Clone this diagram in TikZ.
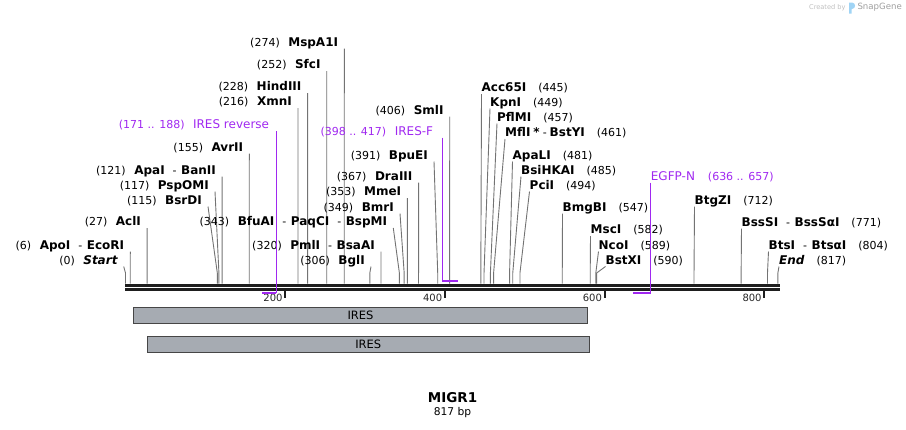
\documentclass[tikz,border=0pt]{standalone}
\usepackage{fontspec}
\setmainfont{DejaVu Sans}
\usetikzlibrary{positioning}

\definecolor{primer}{RGB}{160,40,240}
\definecolor{featgray}{RGB}{166,171,178}
\definecolor{featedge}{RGB}{70,70,70}
\definecolor{cutgray}{RGB}{115,115,115}
\definecolor{spine}{RGB}{30,30,30}
\definecolor{logoblue}{RGB}{160,212,245}

\newcommand{\enz}[1]{{\fontsize{12}{14}\selectfont\bfseries #1}}
\newcommand{\sitesep}{\hspace{8pt}-\hspace{4.5pt}}
\newcommand{\plab}[1]{{\fontsize{12}{14}\selectfont #1}}

\begin{document}
\begin{tikzpicture}[x=1pt, y=-1pt,
        cutlab/.style={inner xsep=6pt, inner ysep=0pt, text height=9pt, text depth=2.1pt, font=\fontsize{11}{13}\selectfont},
        cutlabR/.style={cutlab, inner xsep=0pt},
        cut/.style={draw=cutgray, line width=0.9pt},
        primerlab/.style={cutlab, text=primer},
        primerline/.style={draw=primer, line width=1.3pt},
        primerbar/.style={draw=primer, line width=2.3pt},
        feature/.style={draw=featedge, fill=featgray, line width=0.9pt, minimum height=16pt, inner sep=0pt, font=\fontsize{11.5}{13}\selectfont},
        tickmark/.style={draw=spine, line width=2pt},
        ticklab/.style={inner sep=0pt, text=black!85, font=\fontsize{10}{12}\selectfont}]
        \useasboundingbox (0,0) rectangle (906,429);
        \coordinate (bb) at (0,283.5);

        \draw[spine, line width=3pt] (125.3,285) -- (780,285);
        \draw[spine, line width=2.5pt] (125.3,289.5) -- (780,289.5);
        \foreach \t in {200,400,600,800}{
            \draw[tickmark] ({125.5+0.7985*\t},290.5) -- ++(0,7.5);
            \node[ticklab, anchor=east] (t\t) at ({125.5+0.7985*\t-2.5},297.5) {\t};
        }

        \foreach \bp/\ax/\ly/\lab in {
            274/344.3/42/{(274)\hspace{8.5pt}\enz{MspA1I}},
            252/326.7/64.5/{(252)\hspace{8.5pt}\enz{SfcI}},
            228/307.6/86.5/{(228)\hspace{8.5pt}\enz{HindIII}},
            216/298/101.5/{(216)\hspace{8.5pt}\enz{XmnI}},
            155/249.3/147/{(155)\hspace{8.5pt}\enz{AvrII}},
            121/222.1/170/{(121)\hspace{8.5pt}\enz{ApaI}\sitesep\enz{BanII}},
            117/215/185/{(117)\hspace{8.5pt}\enz{PspOMI}},
            115/208/200/{(115)\hspace{8.5pt}\enz{BsrDI}},
            27/147.1/221.5/{(27)\hspace{8.5pt}\enz{AclI}},
            6/130.3/245/{(6)\hspace{8.5pt}\enz{ApoI}\sitesep\enz{EcoRI}},
            0/123.7/260/{(0)\hspace{8.5pt}\enz{\itshape Start}},
            343/393.3/221.5/{(343)\hspace{8.5pt}\enz{BfuAI}\sitesep\enz{PaqCI}\sitesep\enz{BspMI}},
            320/381/245/{(320)\hspace{8.5pt}\enz{PmlI}\sitesep\enz{BsaAI}},
            306/371/260/{(306)\hspace{8.5pt}\enz{BglI}},
            349/400/207/{(349)\hspace{8.5pt}\enz{BmrI}},
            353/407.4/191.5/{(353)\hspace{8.5pt}\enz{MmeI}},
            367/418.6/176/{(367)\hspace{8.5pt}\enz{DraIII}},
            391/434/155/{(391)\hspace{8.5pt}\enz{BpuEI}},
            406/449.7/110/{(406)\hspace{8.5pt}\enz{SmlI}}}{
            \coordinate (s\bp) at ({125.5+0.7985*\bp},273);
            \node[cutlab, anchor=south east] (e\bp) at ({\ax},{\ly+6.5}) {\lab};
            \draw[cut] (e\bp.south east) -- (s\bp) -- (s\bp |- bb);
        }

        \foreach \bp/\ax/\ly/\lab in {
            445/481.5/87.5/{\enz{Acc65I}\hspace{12pt}(445)},
            449/490/102/{\enz{KpnI}\hspace{12pt}(449)},
            457/497/117/{\enz{PflMI}\hspace{12pt}(457)},
            461/505/132.5/{\enz{MflI}\hspace{3pt}\enz{*}\hspace{3pt}-\hspace{3pt}\enz{BstYI}\hspace{12pt}(461)},
            481/512.5/155/{\enz{ApaLI}\hspace{12pt}(481)},
            485/521/170/{\enz{BsiHKAI}\hspace{12pt}(485)},
            494/529.5/185/{\enz{PciI}\hspace{12pt}(494)},
            547/562.5/207/{\enz{BmgBI}\hspace{12pt}(547)},
            582/590.5/229.5/{\enz{MscI}\hspace{12pt}(582)},
            589/598.5/245/{\enz{NcoI}\hspace{12pt}(589)},
            590/605.5/260/{\enz{BstXI}\hspace{12pt}(590)},
            712/694.5/200/{\enz{BtgZI}\hspace{12pt}(712)},
            771/741.5/222/{\enz{BssSI}\sitesep\enz{BssSαI}\hspace{12pt}(771)},
            804/768.5/245/{\enz{BtsI}\sitesep\enz{BtsαI}\hspace{12pt}(804)},
            817/779/260/{\enz{\itshape End}\hspace{12pt}(817)}}{
            \coordinate (s\bp) at ({125.5+0.7985*\bp},273);
            \node[cutlabR, anchor=south west] (e\bp) at ({\ax},{\ly+6.5}) {\lab};
            \draw[cut] (e\bp.south west) -- (s\bp) -- (s\bp |- bb);
        }

        \node[feature, minimum width=454pt] (ires1) at (360.5,315.3) {IRES};
        \node[feature, minimum width=441.5pt] (ires2) at (368.3,344.5) {IRES};

        \coordinate (r1a) at ({125.5+0.7985*171},293.3);
        \coordinate (f1b) at ({125.5+0.7985*417},280.7);
        \coordinate (r2a) at ({125.5+0.7985*636},293.3);
        \node[primerlab, inner xsep=7pt, anchor=south east] (ires-rev) at (276.3,131) {(171 .. 188)\hspace{8.5pt}\plab{IRES reverse}};
        \node[primerlab, inner xsep=9pt, anchor=south east] (ires-f) at (442.3,137.5) {(398 .. 417)\hspace{8.5pt}\plab{IRES-F}};
        \node[primerlab, inner xsep=0pt, anchor=south west] (egfp-n) at (650.7,182.5) {\plab{EGFP-N}\hspace{13pt}(636 .. 657)};
        \draw[primerline] (ires-rev.south east) -- (ires-rev.south east |- r1a);
        \draw[primerbar] (r1a) -- (r1a -| ires-rev.south east);
        \draw[primerline] (ires-f.south east) -- (ires-f.south east |- f1b);
        \draw[primerbar] (ires-f.south east |- f1b) -- (f1b);
        \draw[primerline] (egfp-n.south west) -- (egfp-n.south west |- r2a);
        \draw[primerbar] (r2a) -- (r2a -| egfp-n.south west);

        \node[font=\fontsize{13.5}{16}\selectfont\bfseries] (title) at (452.5,398) {MIGR1};
        \node[font=\fontsize{10.7}{13}\selectfont] (len) at (452.5,412.5) {817 bp};

        \node[text=black!25, inner sep=0pt, font=\fontsize{6.6}{8}\selectfont, anchor=west] (made) at (809,7.5) {Created by};
        \fill[logoblue] (849,13.5) -- (849,2.5) -- (852,2.5) .. controls (856,2.5) and (856,9) .. (852,9) -- (851.5,9) -- (851.5,13.5) -- cycle;
        \node[text=black!38, inner sep=0pt, font=\fontsize{8.6}{10}\selectfont, anchor=west] (snap) at (857.3,7.5) {SnapGene};
    \end{tikzpicture}
\end{document}
